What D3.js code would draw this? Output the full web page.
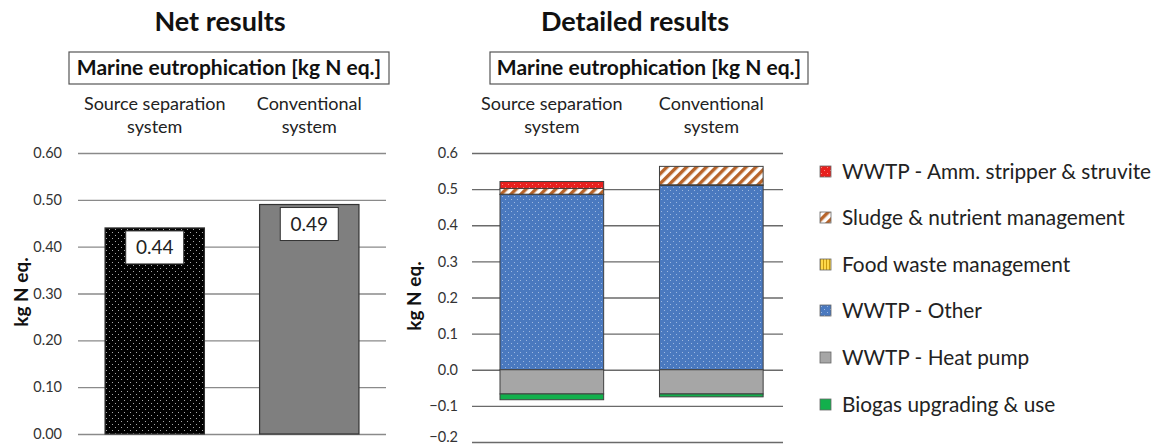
<!DOCTYPE html>
<html>
<head>
<meta charset="utf-8">
<script src="https://cdn.jsdelivr.net/npm/d3@7"></script>
<style>
  html, body { margin: 0; padding: 0; background: #fff; }
  svg { display: block; font-family: Lato, "Open Sans", sans-serif; }
</style>
</head>
<body>
<svg id="chart" width="1172" height="448"></svg>
<script>
// Categories and values
const categories = [["Source separation", "system"], ["Conventional", "system"]];
const netValues = [0.44, 0.49];
const netTicks = [0, 0.1, 0.2, 0.3, 0.4, 0.5, 0.6];
const detailTicks = [-0.2, -0.1, 0, 0.1, 0.2, 0.3, 0.4, 0.5, 0.6];

const seriesNames = [
  "WWTP - Amm. stripper & struvite",
  "Sludge & nutrient management",
  "Food waste management",
  "WWTP - Other",
  "WWTP - Heat pump",
  "Biogas upgrading & use"
];
const ammStripper = [0.019, 0.0];
const sludgeNutrient = [0.016, 0.051];
const foodWaste = [0.001, 0.002];
const wwtpOther = [0.485, 0.51];
const heatPump = [-0.067, -0.067];
const biogas = [-0.016, -0.008];

const svg = d3.select("#chart");
const defs = svg.append("defs");

// Fill patterns
function dotPattern(id, bg, dot) {
  const p = defs.append("pattern").attr("id", id).attr("patternUnits", "userSpaceOnUse")
    .attr("width", 6).attr("height", 6);
  p.append("rect").attr("width", 6).attr("height", 6).attr("fill", bg);
  p.append("rect").attr("x", 1).attr("y", 1).attr("width", 1).attr("height", 1).attr("fill", dot);
  p.append("rect").attr("x", 4).attr("y", 4).attr("width", 1).attr("height", 1).attr("fill", dot);
}
dotPattern("dotsBlack", "#000", "#aaa");
dotPattern("dotsBlue", "#4a79bf", "#9db8e0");
dotPattern("dotsRed", "#e8201e", "#ff8a80");
(function () {
  const p = defs.append("pattern").attr("id", "hatch").attr("patternUnits", "userSpaceOnUse")
    .attr("width", 7).attr("height", 7).attr("patternTransform", "rotate(45)");
  p.append("rect").attr("width", 7).attr("height", 7).attr("fill", "#fff");
  p.append("rect").attr("width", 3.4).attr("height", 7).attr("fill", "#b8642a");
})();
(function () {
  const p = defs.append("pattern").attr("id", "vstripe").attr("patternUnits", "userSpaceOnUse")
    .attr("width", 3).attr("height", 3);
  p.append("rect").attr("width", 3).attr("height", 3).attr("fill", "#ffd84a");
  p.append("rect").attr("width", 1).attr("height", 3).attr("fill", "#c89a10");
})();

const seriesFills = ["url(#dotsRed)", "url(#hatch)", "url(#vstripe)", "url(#dotsBlue)", "#a6a6a6", "#12b04c"];

// Headings
function heading(x, text) {
  svg.append("text").attr("x", x).attr("y", 31).attr("text-anchor", "middle")
    .attr("font-size", 27).attr("font-weight", 700).attr("fill", "#111").text(text);
}
heading(220, "Net results");
heading(635, "Detailed results");

function titleBox(x0, x1, text) {
  svg.append("rect").attr("x", x0).attr("y", 52).attr("width", x1 - x0).attr("height", 32)
    .attr("fill", "#fff").attr("stroke", "#555").attr("stroke-width", 1.2);
  svg.append("text").attr("x", (x0 + x1) / 2).attr("y", 75).attr("text-anchor", "middle")
    .attr("font-size", 21).attr("font-weight", 700).attr("fill", "#111").text(text);
}
titleBox(69, 389, "Marine eutrophication [kg N eq.]");
titleBox(490, 808, "Marine eutrophication [kg N eq.]");

function categoryLabels(x) {
  categories.forEach((lines, i) => {
    const cx = x(i) + x.bandwidth() / 2;
    lines.forEach((ln, j) => {
      svg.append("text").attr("x", cx).attr("y", 110 + j * 23).attr("text-anchor", "middle")
        .attr("font-size", 18).attr("fill", "#222").text(ln);
    });
  });
}

function yLabel(x, y) {
  svg.append("text").attr("transform", `translate(${x},${y}) rotate(-90)`)
    .attr("text-anchor", "middle").attr("font-size", 19).attr("font-weight", 700)
    .attr("fill", "#111").text("kg N eq.");
}

// ---------- Net results ----------
{
  const left = 78, right = 386, top = 153, bottom = 434;
  const y = d3.scaleLinear().domain([0, 0.6]).range([bottom, top]);
  const x = d3.scaleBand().domain(d3.range(categories.length)).range([left, right])
    .paddingInner(0.357).paddingOuter(0.175);

  const g = svg.append("g");
  g.append("g").attr("transform", `translate(${left},0)`)
    .call(d3.axisLeft(y).tickValues(netTicks).tickFormat(d3.format(".2f"))
      .tickSize(-(right - left)).tickPadding(16))
    .call(a => a.select(".domain").remove())
    .call(a => a.selectAll("line").attr("stroke", "#8a8a8a").attr("stroke-width", 1.3))
    .call(a => a.selectAll("text").attr("font-size", 14.5).attr("fill", "#333")
      .attr("font-family", "Lato, sans-serif"));

  const fills = ["url(#dotsBlack)", "#7f7f7f"];
  g.selectAll("rect.bar").data(netValues).join("rect").attr("class", "bar")
    .attr("x", (d, i) => x(i)).attr("width", x.bandwidth())
    .attr("y", d => y(d)).attr("height", d => y(0) - y(d))
    .attr("fill", (d, i) => fills[i]).attr("stroke", "#333").attr("stroke-width", 1.2);

  netValues.forEach((v, i) => {
    const cx = x(i) + x.bandwidth() / 2;
    const by = y(v) + 3;
    g.append("rect").attr("x", cx - 29).attr("y", by).attr("width", 58).attr("height", 33)
      .attr("fill", "#fff").attr("stroke", "#333").attr("stroke-width", 1);
    g.append("text").attr("x", cx).attr("y", by + 23.5).attr("text-anchor", "middle")
      .attr("font-size", 19).attr("fill", "#222").text(d3.format(".2f")(v));
  });

  categoryLabels(x);
  yLabel(28, 292);
}

// ---------- Detailed results ----------
{
  const left = 472, right = 783, top = 153, bottom = 442;
  const y = d3.scaleLinear().domain([-0.2, 0.6]).range([bottom, top]);
  const x = d3.scaleBand().domain(d3.range(categories.length)).range([left, right])
    .paddingInner(0.35).paddingOuter(0.15).align(0.585);

  const g = svg.append("g");
  g.append("g").attr("transform", `translate(${left},0)`)
    .call(d3.axisLeft(y).tickValues(detailTicks).tickFormat(d3.format(".1f"))
      .tickSize(-(right - left)).tickPadding(14))
    .call(a => a.select(".domain").remove())
    .call(a => a.selectAll("line").attr("stroke", "#6a6a6a").attr("stroke-width", 1.3))
    .call(a => a.selectAll("text").attr("font-size", 14.5).attr("fill", "#333")
      .attr("font-family", "Lato, sans-serif"))
    .call(a => a.selectAll(".tick").filter(d => d === -0.2).select("text").attr("dy", "-0.05em"));

  // Stack order from the zero line outward
  const positive = [
    { v: wwtpOther, f: seriesFills[3] },
    { v: foodWaste, f: seriesFills[2] },
    { v: sludgeNutrient, f: seriesFills[1] },
    { v: ammStripper, f: seriesFills[0] }
  ];
  const negative = [
    { v: heatPump, f: seriesFills[4] },
    { v: biogas, f: seriesFills[5] }
  ];
  categories.forEach((c, i) => {
    let acc = 0;
    positive.forEach(s => {
      const val = s.v[i];
      if (val > 0) {
        g.append("rect").attr("x", x(i)).attr("width", x.bandwidth())
          .attr("y", y(acc + val)).attr("height", y(acc) - y(acc + val))
          .attr("fill", s.f).attr("stroke", "#404040").attr("stroke-width", 1);
      }
      acc += val;
    });
    acc = 0;
    negative.forEach(s => {
      const val = s.v[i];
      g.append("rect").attr("x", x(i)).attr("width", x.bandwidth())
        .attr("y", y(acc)).attr("height", y(acc + val) - y(acc))
        .attr("fill", s.f).attr("stroke", "#404040").attr("stroke-width", 1);
      acc += val;
    });
  });

  categoryLabels(x);
  yLabel(421, 296);

  // Legend
  const rowY = [172, 218, 265, 311, 358, 405];
  seriesNames.forEach((name, k) => {
    const lg = svg.append("g").attr("transform", `translate(820,${rowY[k]})`);
    lg.append("rect").attr("x", 0).attr("y", -6).attr("width", 11).attr("height", 11)
      .attr("fill", seriesFills[k]).attr("stroke", "#666").attr("stroke-width", 0.8);
    lg.append("text").attr("x", 22).attr("y", 7).attr("font-size", 20.8).attr("fill", "#222")
      .text(name);
  });
}
</script>
</body>
</html>
